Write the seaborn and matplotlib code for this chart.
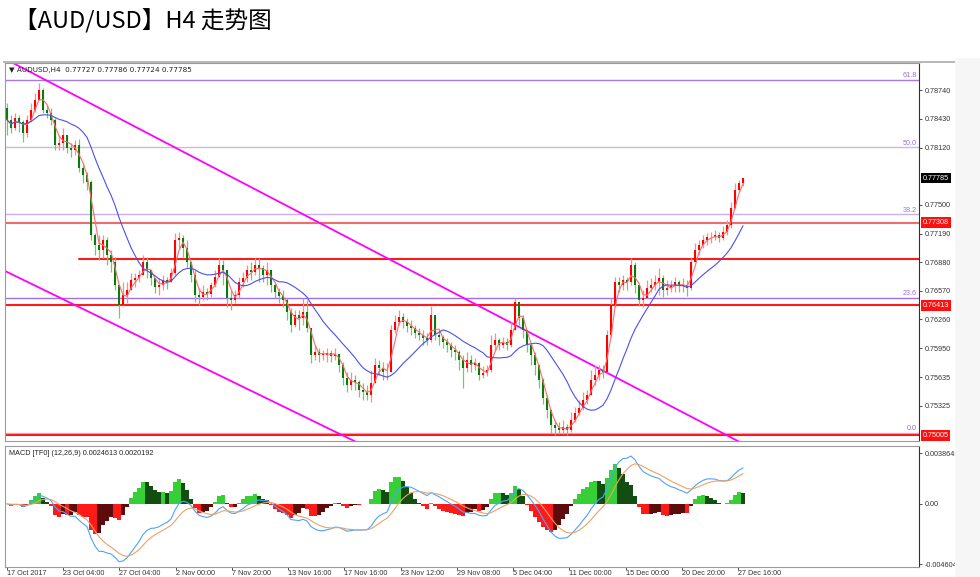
import numpy as np
import pandas as pd
import matplotlib
matplotlib.use('Agg')
from matplotlib import pyplot as plt
from matplotlib.patches import Rectangle
import matplotlib.transforms as mtransforms
import seaborn as sns

# AUDUSD H4 报价 (单位 0.0001), 开盘价 = 前一根收盘价
first_open = 7855
close_px = [7842, 7833, 7844, 7840, 7828, 7842, 7853, 7864, 7874, 7853,
            7849, 7842, 7815, 7817, 7826, 7812, 7809, 7815, 7790, 7782,
            7775, 7717, 7707, 7701, 7712, 7696, 7688, 7663, 7642, 7653,
            7658, 7669, 7671, 7674, 7688, 7680, 7671, 7661, 7663, 7669,
            7666, 7676, 7712, 7714, 7703, 7688, 7674, 7653, 7650, 7656,
            7654, 7663, 7672, 7685, 7680, 7649, 7647, 7653, 7667, 7671,
            7680, 7677, 7685, 7682, 7674, 7680, 7663, 7656, 7651, 7647,
            7634, 7620, 7631, 7628, 7634, 7617, 7588, 7591, 7588, 7588,
            7590, 7587, 7589, 7577, 7563, 7555, 7561, 7558, 7550, 7547,
            7544, 7557, 7577, 7574, 7569, 7569, 7615, 7623, 7629, 7623,
            7619, 7617, 7611, 7609, 7606, 7604, 7631, 7609, 7607, 7602,
            7598, 7593, 7591, 7582, 7574, 7582, 7577, 7579, 7566, 7568,
            7571, 7598, 7604, 7598, 7602, 7598, 7615, 7645, 7628, 7615,
            7598, 7588, 7577, 7561, 7541, 7528, 7512, 7509, 7506, 7510,
            7506, 7517, 7525, 7530, 7539, 7544, 7561, 7566, 7571, 7569,
            7609, 7642, 7667, 7663, 7669, 7666, 7685, 7663, 7647, 7649,
            7660, 7663, 7667, 7671, 7658, 7660, 7662, 7666, 7662, 7663,
            7660, 7688, 7701, 7707, 7712, 7715, 7715, 7717, 7714, 7721,
            7728, 7747, 7766, 7774, 7779]
high_px = [7860, 7847, 7849, 7847, 7842, 7847, 7860, 7871, 7882, 7876,
           7858, 7855, 7844, 7826, 7833, 7826, 7817, 7820, 7821, 7795,
           7786, 7777, 7720, 7717, 7717, 7715, 7701, 7694, 7661, 7666,
           7666, 7676, 7676, 7680, 7696, 7694, 7680, 7671, 7671, 7674,
           7672, 7682, 7720, 7721, 7717, 7712, 7688, 7680, 7660, 7663,
           7660, 7667, 7680, 7693, 7690, 7680, 7658, 7658, 7672, 7677,
           7685, 7688, 7693, 7693, 7685, 7688, 7680, 7666, 7660, 7658,
           7649, 7638, 7636, 7636, 7649, 7647, 7617, 7598, 7595, 7593,
           7595, 7593, 7595, 7588, 7580, 7569, 7569, 7566, 7561, 7557,
           7555, 7571, 7584, 7582, 7580, 7579, 7620, 7631, 7636, 7633,
           7628, 7625, 7620, 7617, 7615, 7611, 7641, 7625, 7615, 7609,
           7606, 7602, 7598, 7593, 7588, 7591, 7588, 7584, 7580, 7576,
           7577, 7609, 7611, 7606, 7607, 7606, 7623, 7649, 7642, 7631,
           7615, 7598, 7591, 7577, 7563, 7544, 7528, 7517, 7515, 7517,
           7513, 7526, 7531, 7539, 7548, 7550, 7571, 7577, 7577, 7577,
           7615, 7649, 7672, 7672, 7674, 7672, 7693, 7688, 7663, 7658,
           7669, 7671, 7674, 7682, 7674, 7669, 7669, 7672, 7669, 7671,
           7669, 7694, 7709, 7712, 7717, 7720, 7721, 7723, 7721, 7727,
           7734, 7753, 7774, 7777, 7779]
low_px = [7826, 7828, 7831, 7829, 7818, 7823, 7840, 7850, 7864, 7849,
          7844, 7836, 7809, 7809, 7809, 7806, 7802, 7804, 7786, 7774,
          7766, 7712, 7696, 7690, 7693, 7685, 7677, 7658, 7628, 7642,
          7644, 7658, 7661, 7666, 7677, 7671, 7663, 7655, 7653, 7658,
          7659, 7669, 7674, 7703, 7694, 7683, 7666, 7645, 7642, 7647,
          7647, 7650, 7661, 7674, 7663, 7640, 7636, 7644, 7649, 7661,
          7667, 7669, 7674, 7666, 7667, 7663, 7656, 7649, 7644, 7640,
          7625, 7612, 7618, 7615, 7620, 7612, 7579, 7582, 7580, 7582,
          7580, 7580, 7582, 7569, 7555, 7547, 7550, 7550, 7542, 7539,
          7539, 7537, 7558, 7566, 7561, 7561, 7569, 7611, 7620, 7617,
          7612, 7609, 7606, 7604, 7598, 7598, 7602, 7604, 7598, 7595,
          7591, 7585, 7582, 7571, 7552, 7569, 7569, 7571, 7561, 7563,
          7565, 7569, 7593, 7593, 7595, 7593, 7596, 7615, 7620, 7606,
          7591, 7577, 7566, 7552, 7534, 7519, 7503, 7501, 7502, 7502,
          7501, 7504, 7515, 7523, 7528, 7534, 7547, 7555, 7561, 7563,
          7569, 7607, 7640, 7656, 7658, 7658, 7663, 7655, 7641, 7640,
          7653, 7656, 7658, 7653, 7650, 7653, 7656, 7656, 7656, 7656,
          7651, 7658, 7688, 7696, 7703, 7707, 7709, 7712, 7710, 7712,
          7717, 7725, 7745, 7764, 7770]

# 水平支撑/阻力线 (价格, 起始K线)
level_prices = [0.77308, 0.76913, 0.76413, 0.75005]
level_start = [-1, 18, -1, -1]
level_colors = ['#f26b6b', '#ff1a1a', '#ff1a1a', '#ff1a1a']
# 斐波那契回调
fib_low, fib_high = 0.75035, 0.81215
fib_ratios = [0.0, 23.6, 38.2, 50.0, 61.8]
fib_colors = ['#c9b0f2', '#a070ea', '#c9b0f2', '#c8bedc', '#a47ae0']
# 趋势线 (K线序号, 价格)
trend_upper = [(1.5, 0.79035), (180.75, 0.74989)]
trend_lower = [(0.0, 0.76774), (75.75, 0.75178)]

price_ticks = [0.78740, 0.78430, 0.78120, 0.77500, 0.77190, 0.76880,
               0.76570, 0.76260, 0.75950, 0.75635, 0.75325]
macd_ticks = [0.0038643, 0.0, -0.004604]
macd_tick_labels = ['0.0038643', '0.00', '-0.004604']
date_labels = ['17 Oct 2017', '23 Oct 04:00', '27 Oct 04:00', '2 Nov 00:00', '7 Nov 20:00',
               '13 Nov 16:00', '17 Nov 16:00', '23 Nov 12:00', '29 Nov 08:00', '5 Dec 04:00',
               '11 Dec 00:00', '15 Dec 00:00', '20 Dec 20:00', '27 Dec 16:00']

sns.set_theme(style='white')
plt.rcParams['font.family'] = ['Liberation Sans', 'DejaVu Sans']

close = np.array(close_px) / 1e4
high = np.array(high_px) / 1e4
low = np.array(low_px) / 1e4
open_ = np.concatenate([[first_open / 1e4], close[:-1]])
high = np.maximum(high, np.maximum(open_, close))
low = np.minimum(low, np.minimum(open_, close))
n = len(close)

df = pd.DataFrame({'bar': np.arange(n), 'open': open_, 'high': high, 'low': low, 'close': close})
df['ma_fast'] = df['close'].rolling(3, min_periods=1).mean()
df['ma_slow'] = df['close'].rolling(14, min_periods=1).mean()
ema_f = df['close'].ewm(span=7, adjust=False).mean()
ema_s = df['close'].ewm(span=16, adjust=False).mean()
df['macd'] = ema_f - ema_s
df['signal'] = df['macd'].ewm(span=6, adjust=False).mean()
# 柱状图按终端显示放大
df['hist'] = (df['macd'] - df['signal']) * 2

fig = plt.figure(figsize=(9.8, 5.77), dpi=100)
ax = fig.add_axes([5 / 980, 1 - 441 / 577, 914 / 980, 378 / 577])
ax2 = fig.add_axes([5 / 980, 1 - 567 / 577, 914 / 980, 121 / 577])
xmin, xmax = -0.5, 228

# K线: 阳线红, 阴线绿
up = df['close'] >= df['open']
ax.vlines(df['bar'], df['low'], df['high'], colors=np.where(up, '#ff8a8a', '#7cc27c'),
          linewidth=0.9, zorder=3)
body = (df['close'] - df['open']).where(lambda s: s.abs() > 0.00006, 0.00006)
ax.bar(df['bar'], body, bottom=df['open'], width=0.72,
       color=np.where(up, '#ff0000', '#0a7a0a'), linewidth=0, zorder=4)

sns.lineplot(data=df, x='bar', y='ma_fast', ax=ax, color='#ff6a6a', linewidth=0.8, zorder=5)
sns.lineplot(data=df, x='bar', y='ma_slow', ax=ax, color='#4a50f0', linewidth=0.8, zorder=5)

for r, c in zip(fib_ratios, fib_colors):
    lvl = fib_low + (fib_high - fib_low) * r / 100
    ax.axhline(lvl, color=c, linewidth=1.0, zorder=2)
    ax.text(xmax - 0.6, lvl + 0.00006, f'{r:.1f}', ha='right', va='bottom', fontsize=5.2,
            color='#9b6ce8', zorder=6)

for p, s, c in zip(level_prices, level_start, level_colors):
    ax.plot([max(s, xmin), xmax], [p, p], color=c, linewidth=1.5, zorder=2)

for (x0, y0), (x1, y1) in [trend_upper, trend_lower]:
    k = (y1 - y0) / (x1 - x0)
    ax.plot([xmin, xmax], [y0 + k * (xmin - x0), y0 + k * (xmax - x0)],
            color='#ff00ff', linewidth=1.3, zorder=2)

ax.set_xlim(xmin, xmax)
ax.set_ylim(0.74945, 0.79035)
ax.yaxis.tick_right()
ax.set_yticks(price_ticks)
ax.set_yticklabels([f'{t:.5f}' for t in price_ticks])
ax.set_xticks([])
ax.set_xlabel('')
ax.set_ylabel('')
ax.tick_params(axis='y', right=True, length=2, width=0.6, pad=2, labelsize=5.2,
               colors='#333333')

trans = mtransforms.blended_transform_factory(ax.transAxes, ax.transData)
ax.text(1.004, close[-1], '0.77785', transform=trans, ha='left', va='center', fontsize=5.2,
        color='white', zorder=10, clip_on=False,
        bbox=dict(boxstyle='square,pad=0.25', fc='black', ec='none'))
for p in [0.77308, 0.76413, 0.75005]:
    ax.text(1.004, p, f'{p:.5f}', transform=trans, ha='left', va='center', fontsize=5.2,
            color='white', zorder=10, clip_on=False,
            bbox=dict(boxstyle='square,pad=0.25', fc='#ff1010', ec='none'))

ax.text(0.004, 0.99, '\u25bc AUDUSD,H4  0.77727 0.77786 0.77724 0.77785', transform=ax.transAxes,
        ha='left', va='top', fontsize=5.2, color='#222222', zorder=10,
        family=['DejaVu Sans'])

# MACD
h = df['hist']
rising = h.diff().fillna(0) >= 0
hist_colors = np.where(h >= 0, np.where(rising, '#36cf36', '#124d12'),
                       np.where(rising, '#5e0b0b', '#ff1a1a'))
ax2.bar(df['bar'], h, width=0.8, color=hist_colors, linewidth=0, zorder=2)
sns.lineplot(data=df, x='bar', y='macd', ax=ax2, color='#4aa4ff', linewidth=0.8, zorder=3)
sns.lineplot(data=df, x='bar', y='signal', ax=ax2, color='#f0a064', linewidth=0.8, zorder=3)
ax2.set_xlim(xmin, xmax)
ax2.set_ylim(-0.00483, 0.00442)
ax2.yaxis.tick_right()
ax2.set_yticks(macd_ticks)
ax2.set_yticklabels(macd_tick_labels)
ax2.set_xticks(np.arange(len(date_labels)) * 14.06)
ax2.set_xticklabels(date_labels, ha='left')
ax2.set_xlabel('')
ax2.set_ylabel('')
ax2.tick_params(axis='y', right=True, length=2, width=0.6, pad=2, labelsize=5.2,
                colors='#333333')
ax2.tick_params(axis='x', bottom=True, length=2, width=0.6, pad=0.5, labelsize=5.2,
                colors='#333333')
ax2.text(0.004, 0.97, 'MACD [TF0] (12,26,9) 0.0024613 0.0020192', transform=ax2.transAxes,
         ha='left', va='top', fontsize=5.2, color='#222222', zorder=10)

for a in (ax, ax2):
    for side, sp in a.spines.items():
        sp.set_color('#9a9a9a')
        sp.set_linewidth(0.8)
    a.spines['right'].set_color('#303030')
    a.set_facecolor('white')

fig.patches.append(Rectangle((3 / 980, 1 - 63 / 577), 952 / 980, 2 / 577,
                             transform=fig.transFigure, fc='#b8b8b8', ec='none', zorder=5))
fig.patches.append(Rectangle((955 / 980, 0), 25 / 980, 1 - 58 / 577,
                             transform=fig.transFigure, fc='#f6f6f6', ec='none', zorder=5))

fig.text(14 / 980, 1 - 20 / 577, '【AUD/USD】H4 走势图', ha='left', va='center', fontsize=17,
         color='black', family=['Noto Sans CJK SC', 'DejaVu Sans'])

fig.savefig('out.png', dpi=100, facecolor='white')
